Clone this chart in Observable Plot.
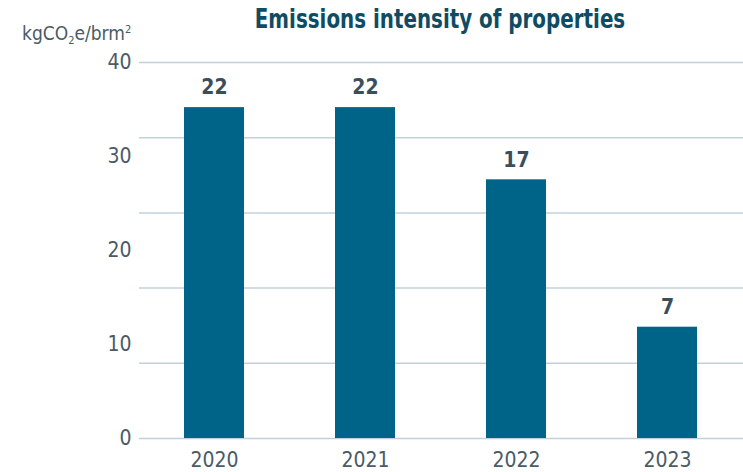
<!DOCTYPE html>
<html>
<head>
<meta charset="utf-8">
<script src="https://cdn.jsdelivr.net/npm/d3@7"></script>
<script src="https://cdn.jsdelivr.net/npm/@observablehq/plot@0.6"></script>
<style>
  html, body { margin: 0; padding: 0; background: #fff; }
  #wrap { position: relative; width: 743px; height: 472px; font-family: "Liberation Sans Narrow", "DejaVu Sans Condensed", "Roboto", sans-serif; }
  #title { position: absolute; left: 0; width: 880px; top: 4px; text-align: center; font-weight: bold; font-size: 26px; color: #0f4c63; transform: scaleX(0.85); transform-origin: 440px 0; }
  #unit { position: absolute; left: 22px; top: 22px; font-size: 19px; color: #4a5b66; }
  #unit sub, #unit sup { font-size: 11px; }
  #unit sub { vertical-align: -4px; }
  #unit sup { vertical-align: 7px; }
  #chart { position: absolute; left: 0; top: 0; }
</style>
</head>
<body>
<div id="wrap">
  <div id="chart"></div>
  <div id="title">Emissions intensity of properties</div>
  <div id="unit">kgCO<sub>2</sub>e/brm<sup>2</sup></div>
</div>
<script>
const years = ["2020", "2021", "2022", "2023"];
const barValues = [22, 22, 17.2, 7.4];
const valueLabels = ["22", "22", "17", "7"];
const gridValues = [0, 5, 10, 15, 20, 25];
const tickLabels = ["0", "10", "20", "30", "40"];
const tickLabelValues = [0, 10, 20, 30, 40];

const bars = years.map((y, i) => ({year: y, value: barValues[i], label: valueLabels[i]}));
const ticks = tickLabels.map((t, i) => ({label: t, v: tickLabelValues[i] * 25 / 40}));

const font = '"Liberation Sans Narrow", "DejaVu Sans Condensed", Roboto, sans-serif';

const chart = Plot.plot({
  width: 743,
  height: 472,
  marginTop: 62,
  marginBottom: 34,
  marginLeft: 139,
  marginRight: 0,
  style: {fontFamily: font, background: "transparent"},
  x: {domain: years, paddingInner: 0.6, paddingOuter: 0.3, label: null},
  y: {domain: [0, 25], label: null, axis: null},
  marks: [
    Plot.ruleY(gridValues, {stroke: "#c3d0da", strokeWidth: 1.5}),
    Plot.barY(bars, {x: "year", y: "value", fill: "#006489"}),
    Plot.text(bars, {x: "year", y: "value", text: "label", dy: -20, fontSize: 21, fontWeight: "bold", fill: "#3b4e5b"}),
    Plot.text(ticks, {y: "v", text: "label", frameAnchor: "left", textAnchor: "end", dx: -8, fontSize: 21, fill: "#4a5b66"}),
    Plot.axisX({tickSize: 0, tickPadding: 14, fontSize: 21, color: "#4a5b66", label: null})
  ]
});
chart.querySelectorAll("text").forEach(t => t.style.fontFamily = font);
document.getElementById("chart").append(chart);
</script>
</body>
</html>
